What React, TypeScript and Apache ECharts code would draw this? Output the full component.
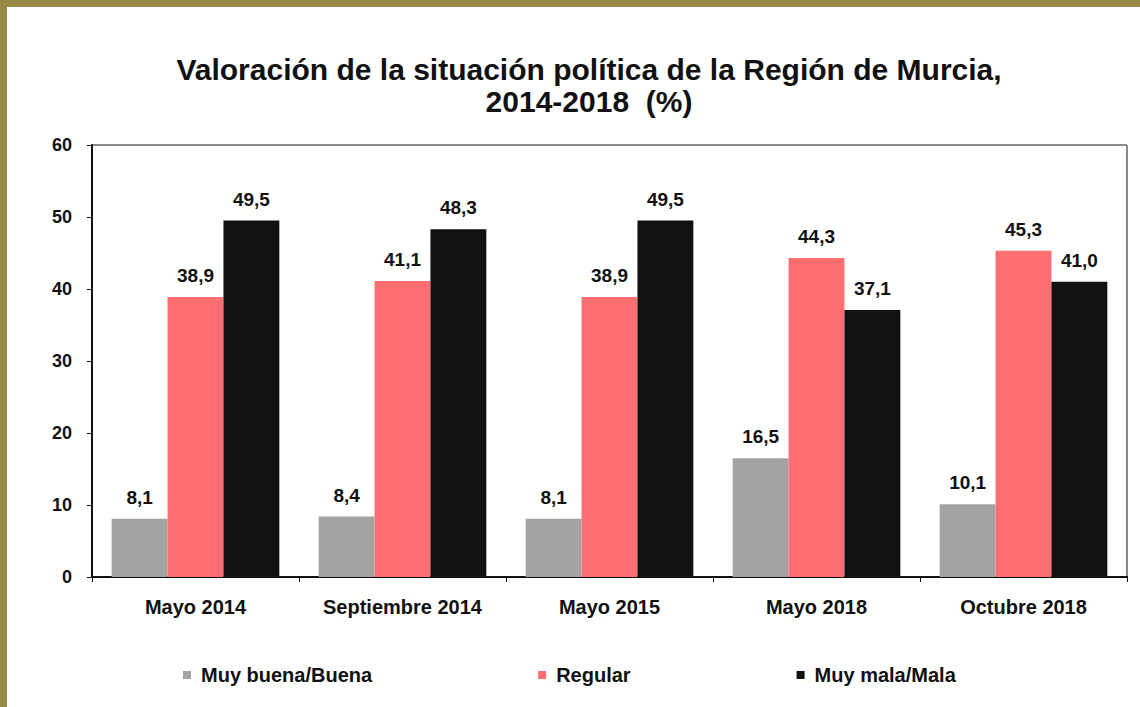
import React, { useEffect, useRef } from "react";
import * as echarts from "echarts";

const categories = ["Mayo 2014", "Septiembre 2014", "Mayo 2015", "Mayo 2018", "Octubre 2018"];
const seriesNames = ["Muy buena/Buena", "Regular", "Muy mala/Mala"];
const buena = [8.1, 8.4, 8.1, 16.5, 10.1];
const regular = [38.9, 41.1, 38.9, 44.3, 45.3];
const mala = [49.5, 48.3, 49.5, 37.1, 41.0];
const colors = ["#a3a3a3", "#ff6e70", "#111111"];

const FONT = "'Liberation Sans', Arial, sans-serif";

export default function App() {
  const ref = useRef<HTMLDivElement>(null);
  useEffect(() => {
    document.body.style.margin = "0";
    if (!ref.current) return;
    const chart = echarts.init(ref.current, null, { renderer: "svg" });
    const values = [buena, regular, mala];
    chart.setOption({
      animation: false,
      backgroundColor: "#ffffff",
      textStyle: { fontFamily: FONT },
      title: {
        text: "Valoración de la situación política de la Región de Murcia,\n2014-2018  (%)",
        left: 584,
        textAlign: "center",
        top: 48,
        textStyle: { fontSize: 30, fontWeight: "bold", color: "#111", lineHeight: 32, fontFamily: FONT },
      },
      graphic: [
        { type: "rect", shape: { x: 0, y: 0, width: 1140, height: 7 }, style: { fill: "#998a45" }, z: 100 },
        { type: "rect", shape: { x: 0, y: 0, width: 7, height: 707 }, style: { fill: "#998a45" }, z: 100 },
        { type: "line", shape: { x1: 92, y1: 145, x2: 1127, y2: 145 }, style: { stroke: "#8a8a8a", lineWidth: 2 } },
        { type: "line", shape: { x1: 1127, y1: 145, x2: 1127, y2: 577 }, style: { stroke: "#8a8a8a", lineWidth: 2 } },
      ],
      legend: {
        data: seriesNames,
        left: 178,
        top: 660,
        icon: "rect",
        itemWidth: 8,
        itemHeight: 8,
        itemGap: 166,
        textStyle: { fontSize: 20, fontWeight: "bold", color: "#111", fontFamily: FONT, padding: [0, 0, 0, 5] },
      },
      grid: { left: 92, right: 13, top: 145, bottom: 130, containLabel: false },
      xAxis: {
        type: "category",
        data: categories,
        axisLine: { lineStyle: { color: "#111", width: 2 } },
        axisTick: { show: true, inside: false, length: 5, lineStyle: { color: "#111" } },
        axisLabel: { fontSize: 20, fontWeight: "bold", color: "#111", margin: 20, fontFamily: FONT },
      },
      yAxis: {
        type: "value",
        min: 0,
        max: 60,
        interval: 10,
        splitLine: { show: false },
        axisLine: { show: true, lineStyle: { color: "#111", width: 2 } },
        axisTick: { show: true, length: 5, lineStyle: { color: "#111" } },
        axisLabel: { fontSize: 18, fontWeight: "bold", color: "#111", margin: 20, fontFamily: FONT },
      },
      series: seriesNames.map((n, i) => ({
        name: n,
        type: "bar",
        data: values[i],
        barGap: "0%",
        barCategoryGap: "19%",
        itemStyle: { color: colors[i] },
        label: {
          show: true,
          position: "top",
          distance: 12,
          fontSize: 19,
          fontWeight: "bold",
          color: "#111",
          fontFamily: FONT,
          formatter: (p: any) => p.value.toFixed(1).replace(".", ","),
        },
      })),
    });
    return () => chart.dispose();
  }, []);
  return <div ref={ref} style={{ width: 1140, height: 707 }} />;
}
